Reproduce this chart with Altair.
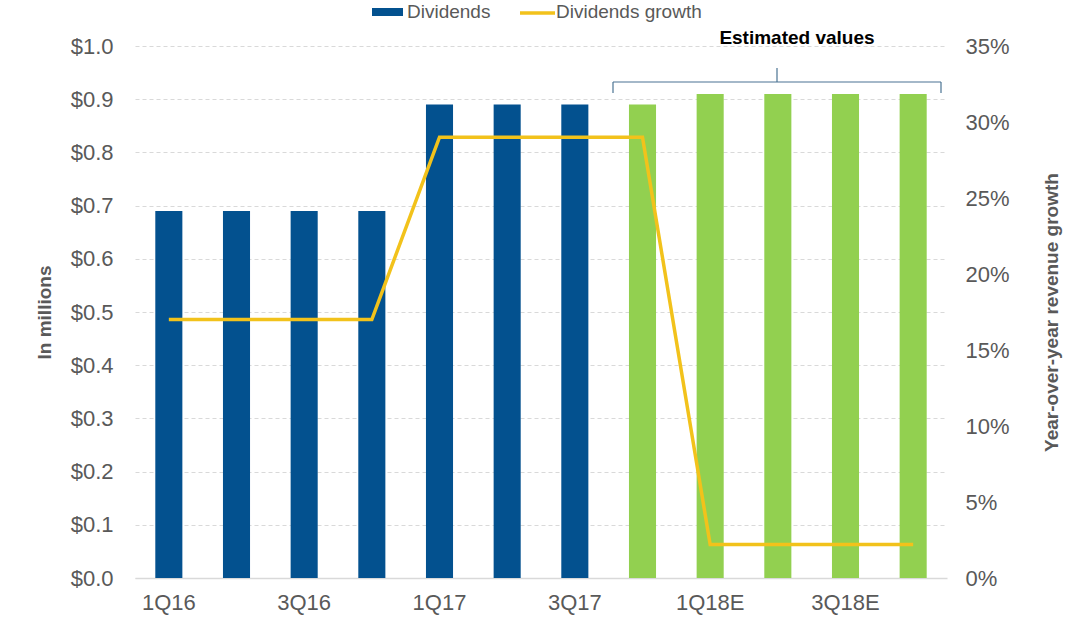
import altair as alt
import pandas as pd

quarters = ["1Q16", "2Q16", "3Q16", "4Q16", "1Q17", "2Q17", "3Q17", "4Q17",
            "1Q18E", "2Q18E", "3Q18E", "4Q18E"]
dividends = [0.69, 0.69, 0.69, 0.69, 0.89, 0.89, 0.89, 0.89, 0.91, 0.91, 0.91, 0.91]
growth = [0.17, 0.17, 0.17, 0.17, 0.29, 0.29, 0.29, 0.29, 0.022, 0.022, 0.022, 0.022]
kind = ["Actual"] * 7 + ["Estimated"] * 5
shown_labels = ["1Q16", "3Q16", "1Q17", "3Q17", "1Q18E", "3Q18E"]
left_ticks = [0.0, 0.1, 0.2, 0.3, 0.4, 0.5, 0.6, 0.7, 0.8, 0.9, 1.0]
right_ticks = [0.0, 0.05, 0.10, 0.15, 0.20, 0.25, 0.30, 0.35]

df = pd.DataFrame({"quarter": quarters, "dividends": dividends,
                   "growth": growth, "kind": kind})

FONT = "Liberation Sans"
GREY = "#595959"
BLUE = "#03518F"
GREEN = "#92D050"
YELLOW = "#F2C21B"
BRACKET = "#4A7393"

x = alt.X("quarter:N", sort=quarters, title=None,
          scale=alt.Scale(paddingInner=0.6, paddingOuter=0.3),
          axis=alt.Axis(values=shown_labels, labelAngle=0, ticks=False,
                        labelPadding=14, labelFontSize=22, labelColor=GREY,
                        labelFont=FONT, domainColor="#d9d9d9", domainWidth=1.5,
                        grid=False))

bars = alt.Chart(df).mark_bar().encode(
    x=x,
    y=alt.Y("dividends:Q", title="In millions",
            scale=alt.Scale(domain=[0, 1.0], nice=False),
            axis=alt.Axis(values=left_ticks, format="$.1f",
                          labelFontSize=22, labelColor=GREY, labelFont=FONT,
                          labelPadding=22, ticks=False, domain=False,
                          grid=True, gridColor="#d9d9d9", gridDash=[4, 3],
                          titleFontSize=19, titleFont=FONT, titleColor=GREY,
                          titleFontWeight="bold", titlePadding=16)),
    color=alt.Color("kind:N", scale=alt.Scale(domain=["Actual", "Estimated"],
                                              range=[BLUE, GREEN]), legend=None),
)

line = alt.Chart(df).mark_line(color=YELLOW, strokeWidth=3.5).encode(
    x=alt.X("quarter:N", sort=quarters),
    y=alt.Y("growth:Q", title="Year-over-year revenue growth",
            scale=alt.Scale(domain=[0, 0.35], nice=False),
            axis=alt.Axis(orient="right", values=right_ticks,
                          format=".0%", labelFontSize=22, labelColor=GREY,
                          labelFont=FONT, labelPadding=18, ticks=False,
                          labelBound=False, labelOverlap=False,
                          domain=False, grid=False, titleFontSize=19,
                          titleFont=FONT, titleColor=GREY, titleFontWeight="bold",
                          titleAngle=270, titlePadding=52)),
)

# Legend (drawn manually at the top)
leg_rect = alt.Chart(df.head(1)).mark_rect(color=BLUE).encode(
    x=alt.value(237), x2=alt.value(268), y=alt.value(-38), y2=alt.value(-30))
leg_line = alt.Chart(df.head(1)).mark_rule(color=YELLOW, strokeWidth=3.5).encode(
    x=alt.value(385), x2=alt.value(420), y=alt.value(-33))
leg_t1 = alt.Chart(df.head(1)).mark_text(
    text="Dividends", align="left", baseline="middle", fontSize=19,
    font=FONT, color=GREY).encode(x=alt.value(272), y=alt.value(-34))
leg_t2 = alt.Chart(df.head(1)).mark_text(
    text="Dividends growth", align="left", baseline="middle", fontSize=19,
    font=FONT, color=GREY).encode(x=alt.value(421), y=alt.value(-34))

# Estimated-values bracket annotation
b_h = alt.Chart(df.head(1)).mark_rule(color=BRACKET, strokeWidth=1.2).encode(
    x=alt.value(478), x2=alt.value(806), y=alt.value(36))
b_l = alt.Chart(df.head(1)).mark_rule(color=BRACKET, strokeWidth=1.2).encode(
    x=alt.value(478), y=alt.value(36), y2=alt.value(47))
b_r = alt.Chart(df.head(1)).mark_rule(color=BRACKET, strokeWidth=1.2).encode(
    x=alt.value(806), y=alt.value(36), y2=alt.value(47))
b_c = alt.Chart(df.head(1)).mark_rule(color=BRACKET, strokeWidth=1.2).encode(
    x=alt.value(642), y=alt.value(22), y2=alt.value(36))
est = alt.Chart(df.head(1)).mark_text(
    text="Estimated values", align="center", baseline="middle", fontSize=19,
    font=FONT, fontWeight="bold", color="black").encode(
    x=alt.value(662), y=alt.value(-8))

chart = alt.layer(
    bars, line, leg_rect, leg_line, leg_t1, leg_t2, b_h, b_l, b_r, b_c, est
).resolve_scale(y="independent").properties(
    width=812, height=532,
    autosize=alt.AutoSizeParams(type="none"),
    padding={"left": 135, "top": 46, "right": 129, "bottom": 50},
    background="white",
).configure_view(stroke=None)

chart.save("out.html", embed_options={"renderer": "svg", "actions": False})
